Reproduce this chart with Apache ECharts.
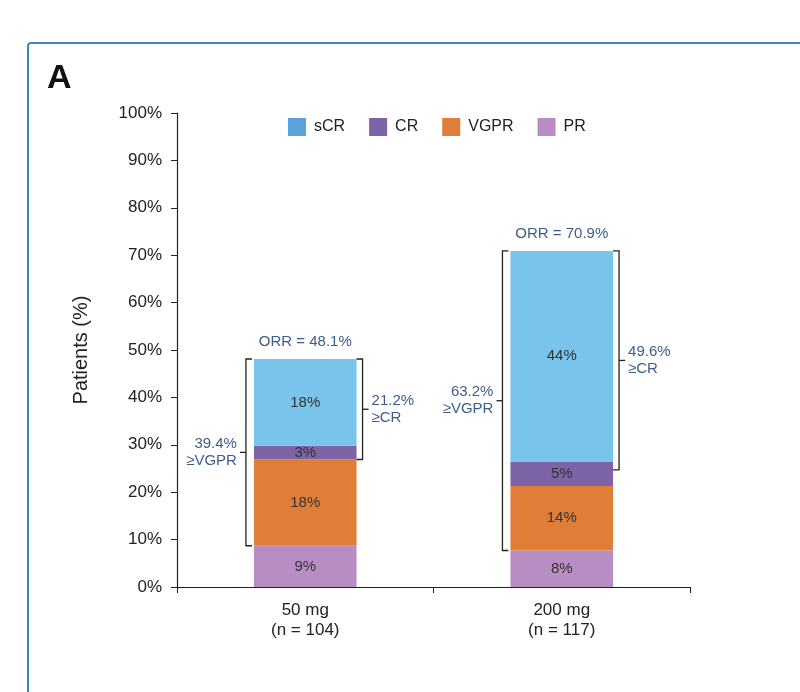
<!DOCTYPE html>
<html>
<head>
<meta charset="utf-8">
<script src="https://cdn.jsdelivr.net/npm/echarts@6/dist/echarts.min.js"></script>
<style>html,body{margin:0;padding:0;background:#fff;}#c{width:800px;height:692px;}</style>
</head>
<body>
<div id="c"></div>
<script>
// ---- data ----
const categories = ['50 mg\n(n = 104)', '200 mg\n(n = 117)'];
const yTicks = [0, 10, 20, 30, 40, 50, 60, 70, 80, 90, 100];
const prValues = [8.7, 7.7];
const vgprValues = [18.2, 13.6];
const crValues = [2.9, 5.2];
const scrValues = [18.3, 44.4];
const prLabels = ['9%', '8%'];
const vgprLabels = ['18%', '14%'];
const crLabels = ['3%', '5%'];
const scrLabels = ['18%', '44%'];
const orrValues = [48.1, 70.9];
const orrLabels = ['ORR = 48.1%', 'ORR = 70.9%'];
const geVgprRanges = [[8.7, 48.1], [7.7, 70.9]];
const geVgprLabels = ['39.4%\n≥VGPR', '63.2%\n≥VGPR'];
const geCrRanges = [[26.9, 48.1], [24.7, 70.9]];
const geCrLabels = ['21.2%\n≥CR', '49.6%\n≥CR'];

const FONT = '"Liberation Sans", Arial, sans-serif';
const ANNO = '#3d5d8e';
const colors = { sCR: '#78c4ea', CR: '#7d64a6', VGPR: '#e07e39', PR: '#b88dc3' };
const BAR_RATIO = 0.4;

function barSeries(name, values, labels) {
  return {
    name: name, type: 'bar', stack: 'total', barWidth: '40%',
    data: values,
    itemStyle: { color: colors[name] },
    label: {
      show: true, position: 'inside', fontSize: 15, fontFamily: FONT, color: '#333',
      formatter: p => labels[p.dataIndex]
    },
    emphasis: { disabled: true }
  };
}

function bracketSeries(ranges, labels, side) {
  return {
    type: 'custom', silent: true, z: 5,
    data: ranges.map((r, i) => [i, r[0], r[1]]),
    encode: { x: 0, y: [1, 2] },
    renderItem: function (params, api) {
      const idx = api.value(0);
      const top = api.coord([idx, api.value(2)]);
      const bot = api.coord([idx, api.value(1)]);
      const bw = api.size([1, 0])[0] * BAR_RATIO;
      const cx = top[0];
      const x = side < 0 ? cx - bw / 2 - 8 : cx + bw / 2 + 6;
      const hook = side < 0 ? 6 : -6;
      const midY = (top[1] + bot[1]) / 2;
      const tickEnd = x + side * 6;
      return {
        type: 'group',
        children: [
          { type: 'polyline', shape: { points: [[x + hook, top[1]], [x, top[1]], [x, bot[1]], [x + hook, bot[1]]] },
            style: { stroke: '#222', lineWidth: 1.3, fill: null } },
          { type: 'line', shape: { x1: x, y1: midY, x2: tickEnd, y2: midY },
            style: { stroke: '#222', lineWidth: 1.3 } },
          { type: 'text', x: tickEnd + side * 3, y: midY,
            style: { text: labels[params.dataIndex], fill: ANNO, font: '15px ' + FONT,
              align: side < 0 ? 'right' : 'left', verticalAlign: 'middle', lineHeight: 17 } }
        ]
      };
    }
  };
}

const chart = echarts.init(document.getElementById('c'), null, { renderer: 'canvas' });
chart.setOption({
  animation: false,
  backgroundColor: '#fff',
  graphic: [
    { type: 'rect', shape: { x: 28, y: 43, width: 800, height: 700, r: 3 },
      style: { fill: null, stroke: '#3b86c8', lineWidth: 2 } },
    { type: 'text', left: 47, top: 62,
      style: { text: 'A', font: 'bold 34px ' + FONT, fill: '#111' } }
  ],
  legend: {
    top: 113, left: 283, itemWidth: 18, itemHeight: 18, itemGap: 24, icon: 'rect',
    textStyle: { fontSize: 16, fontFamily: FONT, color: '#222', padding: [0, 0, 0, 3] },
    data: [
      { name: 'sCR', itemStyle: { color: '#5da3db' } },
      { name: 'CR' }, { name: 'VGPR' }, { name: 'PR' }
    ],
    selectedMode: false
  },
  grid: { left: 177, right: 110, top: 113, bottom: 105 },
  xAxis: {
    type: 'category', data: categories,
    axisLine: { lineStyle: { color: '#222', width: 1.2 } },
    axisTick: { show: true, length: 6, alignWithLabel: false, lineStyle: { color: '#222' } },
    axisLabel: { fontSize: 17, lineHeight: 20, fontFamily: FONT, color: '#222', margin: 13 }
  },
  yAxis: {
    type: 'value', min: yTicks[0], max: yTicks[yTicks.length - 1], interval: yTicks[1] - yTicks[0],
    name: 'Patients (%)', nameLocation: 'middle', nameRotate: 90, nameGap: 86,
    nameTextStyle: { fontSize: 20, fontFamily: FONT, color: '#222' },
    axisLine: { show: true, lineStyle: { color: '#222', width: 1.2 } },
    axisTick: { show: true, length: 6, lineStyle: { color: '#222' } },
    splitLine: { show: false },
    axisLabel: { fontSize: 17, fontFamily: FONT, color: '#222', margin: 15, formatter: '{value}%' }
  },
  series: [
    barSeries('PR', prValues, prLabels),
    barSeries('VGPR', vgprValues, vgprLabels),
    barSeries('CR', crValues, crLabels),
    barSeries('sCR', scrValues, scrLabels),
    bracketSeries(geVgprRanges, geVgprLabels, -1),
    bracketSeries(geCrRanges, geCrLabels, 1),
    {
      type: 'custom', silent: true, z: 5,
      data: orrValues.map((v, i) => [i, v]),
      encode: { x: 0, y: 1 },
      renderItem: function (params, api) {
        const p = api.coord([api.value(0), api.value(1)]);
        return { type: 'text', x: p[0], y: p[1] - 17,
          style: { text: orrLabels[params.dataIndex], fill: ANNO, font: '15px ' + FONT,
            align: 'center', verticalAlign: 'middle' } };
      }
    }
  ]
});
</script>
</body>
</html>
